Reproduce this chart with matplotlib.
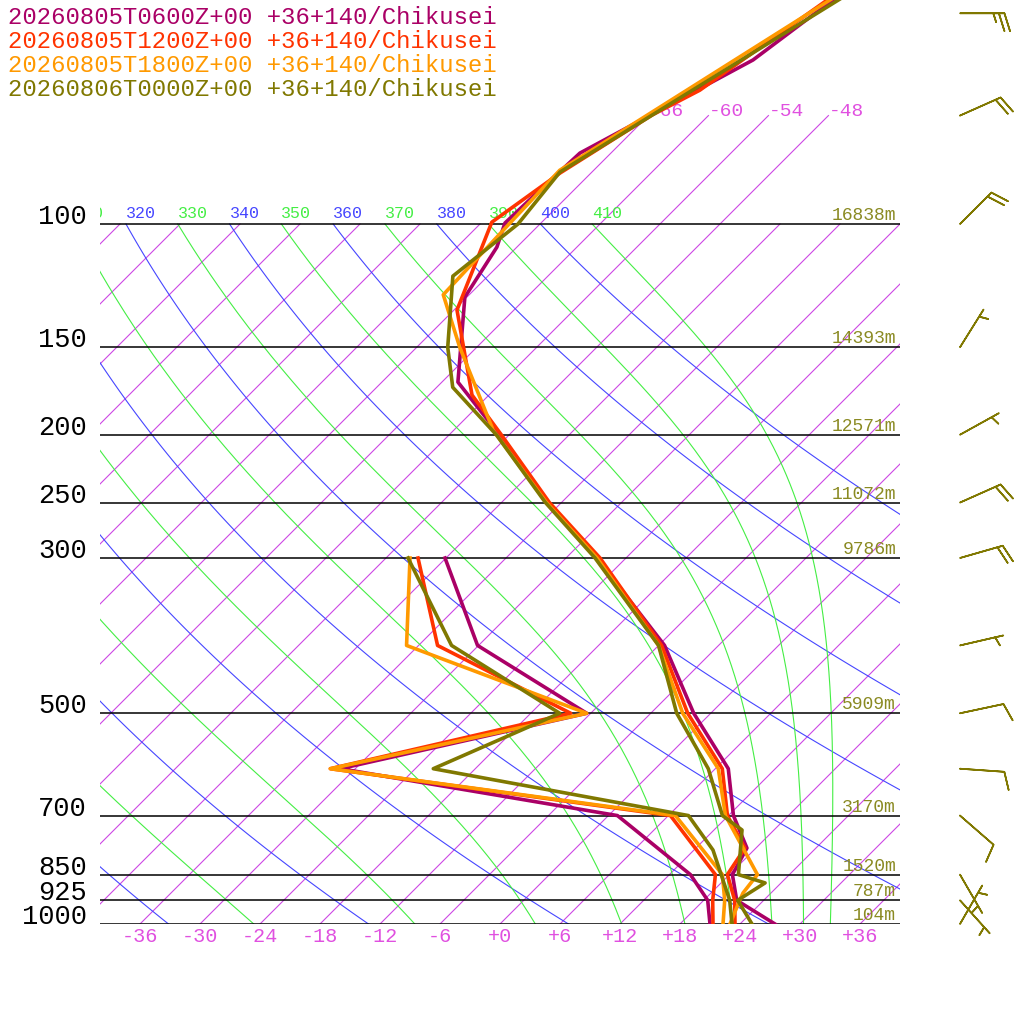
import numpy as np
import matplotlib
matplotlib.use("Agg")
import matplotlib.pyplot as plt
from matplotlib.transforms import offset_copy

plt.rcParams["font.family"] = ["Liberation Mono", "DejaVu Sans Mono"]

# runs shown in the legend
run_labels = [
    "20260805T0600Z+00 +36+140/Chikusei",
    "20260805T1200Z+00 +36+140/Chikusei",
    "20260805T1800Z+00 +36+140/Chikusei",
    "20260806T0000Z+00 +36+140/Chikusei",
]
run_colors = ["#aa0066", "#ff3300", "#ff9900", "#807800"]

# temperature profiles (hPa, degC)
t06_p = [45, 58.3, 79.2, 89.4, 99.7, 107.9, 127.2, 168.2, 200, 250, 300, 400, 500, 600, 700, 779, 850, 925, 1000]
t06_t = [-58.5, -61.1, -69.1, -69.4, -69.6, -68.0, -66.2, -58.4, -49.0, -37.4, -26.9, -11.4, -1.7, 7.3, 12.5, 17.1, 18.3, 21.3, 27.5]
t12_p = [45, 64.4, 69.9, 84.6, 99.4, 132.7, 175.5, 200, 250, 300, 400, 500, 600, 700, 779, 850, 925, 1000]
t12_t = [-58.9, -63.4, -65.7, -69.1, -71.0, -65.7, -55.7, -48.8, -37.2, -26.6, -11.7, -2.3, 6.7, 11.9, 16.9, 17.8, 21.1, 23.5]
t18_p = [45, 83.8, 99.7, 126.2, 150, 196.9, 250, 300, 400, 500, 600, 700, 850, 903, 925, 1000]
t18_t = [-58.3, -69.4, -69.1, -68.6, -61.7, -50.1, -37.5, -26.9, -12.0, -2.8, 6.3, 11.7, 20.8, 21.2, 21.6, 23.0]
t00_p = [45, 84.3, 100, 118.7, 150, 171.1, 200, 250, 300, 400, 500, 600, 700, 734, 850, 873.6, 925, 1000]
t00_t = [-57.4, -69.2, -68.2, -69.5, -62.9, -58.4, -49.3, -37.6, -27.1, -12.0, -3.4, 5.3, 11.4, 14.8, 18.9, 22.4, 21.4, 25.2]

# dew point profiles (hPa, degC)
d06_p = [300, 400, 500, 600, 700, 850, 925, 1000]
d06_t = [-42.1, -30.1, -12.4, -31.5, 0.9, 14.1, 18.4, 21.0]
d12_p = [300, 400, 500, 600, 700, 850, 925, 1000]
d12_t = [-44.8, -34.1, -14.0, -32.5, 6.2, 16.6, 18.9, 21.3]
d18_p = [300, 400, 500, 600, 700, 850, 925, 1000]
d18_t = [-45.6, -37.2, -12.4, -32.5, 6.7, 17.3, 20.1, 22.3]
d00_p = [300, 400, 500, 600, 700, 784, 925, 1000]
d00_t = [-45.8, -32.7, -15.1, -22.2, 8.0, 13.9, 20.6, 23.2]

temps = [(t06_p, t06_t), (t12_p, t12_t), (t18_p, t18_t), (t00_p, t00_t)]
dews = [(d06_p, d06_t), (d12_p, d12_t), (d18_p, d18_t), (d00_p, d00_t)]

# wind (last run): level hPa, direction deg, speed kt
wind_p = [50, 70, 100, 150, 200, 250, 300, 400, 500, 600, 700, 850, 925, 1000]
wind_dir = [90, 66, 45, 32, 61, 66, 74, 77, 78, 94, 131, 150, 138, 30]
wind_spd = [25, 20, 20, 5, 5, 20, 20, 5, 10, 10, 10, 5, 5, 5]

# isobars and their heights
isobars = [100, 150, 200, 250, 300, 500, 700, 850, 925, 1000]
heights = ["16838m", "14393m", "12571m", "11072m", "9786m", "5909m", "3170m", "1520m", "787m", "104m"]

iso_color = "#cc48e4"
dry_color = "#4646ff"
moist_color = "#44ee44"
text_pink = "#e050e0"
height_color = "#8a8a22"


def skew(t, p):
    return np.asarray(t, dtype=float) + 70 * np.log10(1000 / np.asarray(p, dtype=float))


def dtdp(t, p):
    es = 6.112 * np.exp(17.67 * (t - 273.15) / (t - 29.65))
    rs = 0.622 * es / (p - es)
    return (287.04 * t + 2.501e6 * rs) / (p * (1005.7 + 2.501e6 ** 2 * rs * 0.622 / (287.04 * t * t)))


def moist_adiabat(theta_top, pp):
    t = theta_top * 0.1 ** 0.2857
    out = [t]
    for i in range(1, len(pp)):
        p0, h = pp[i - 1], pp[i] - pp[i - 1]
        k1 = dtdp(t, p0)
        k2 = dtdp(t + h * k1 / 2, p0 + h / 2)
        k3 = dtdp(t + h * k2 / 2, p0 + h / 2)
        k4 = dtdp(t + h * k3, p0 + h)
        t = t + h * (k1 + 2 * k2 + 2 * k3 + k4) / 6
        out.append(t)
    return np.array(out) - 273.15


fig = plt.figure(figsize=(10.24, 10.24), dpi=100)
ax = fig.add_axes([100 / 1024, 100 / 1024, 800 / 1024, 924 / 1024])
p_top = 1000 * 10 ** (-924 / 700)
ax.set_yscale("log")
ax.set_ylim(1000, p_top)
ax.set_xlim(-40, 40)
ax.axis("off")
lifted = offset_copy(ax.transData, fig=fig, y=2.2, units="points")

# isotherms
for t in range(-120, 42, 6):
    top = 70 if -66 <= t <= -48 else 100
    pp = np.array([1000.0, top])
    ax.plot(skew([t, t], pp), pp, color=iso_color, lw=0.8, zorder=1)
    if top == 70:
        ax.text(skew(t, 70), 70, f"{t:d}", color=text_pink, fontsize=14,
                ha="left", va="baseline", clip_on=True, zorder=2)

# dry adiabats
pp = np.logspace(3, 2, 120)
for th in range(200, 420, 20):
    tt = th * (pp / 1000) ** 0.2857 - 273.15
    ax.plot(skew(tt, pp), pp, color=dry_color, lw=0.8, zorder=1)
    if th >= 320:
        ax.text(skew(tt[-1], 100), 100, str(th), color=dry_color, fontsize=12,
                ha="left", va="bottom", clip_on=True, zorder=2, transform=lifted)

# moist adiabats
pm = np.linspace(100, 1000, 400)
for th in range(230, 420, 20):
    tt = moist_adiabat(th, pm)
    ax.plot(skew(tt, pm), pm, color=moist_color, lw=0.8, zorder=1)
    if th >= 310:
        ax.text(skew(tt[0], 100), 100, str(th), color=moist_color, fontsize=12,
                ha="left", va="bottom", clip_on=True, zorder=2, transform=lifted)

# isobars
for p, h in zip(isobars, heights):
    ax.plot([-40, 40], [p, p], color="black", lw=1.1, zorder=3)
    ax.text(-41.3, p, str(p), ha="right", va="baseline", fontsize=19.5, color="black")
    ax.text(39.6, p, h, ha="right", va="bottom", fontsize=13, color=height_color, zorder=4)

# temperature axis labels
xt = ax.get_xaxis_transform()
for t in range(-36, 37, 6):
    ax.text(t, -0.014, f"{t:+d}", transform=xt, ha="center", va="center",
            fontsize=14.5, color=text_pink)

# profiles
for (tp, tv), (dp, dv), c in zip(temps, dews, run_colors):
    ax.plot(skew(tv, tp), tp, color=c, lw=2.6, zorder=5)
    ax.plot(skew(dv, dp), dp, color=c, lw=2.6, zorder=5)

# wind barbs
wd = np.radians(wind_dir)
u = -np.array(wind_spd) * np.sin(wd)
v = -np.array(wind_spd) * np.cos(wd)
ax.barbs(np.full(len(wind_p), 46.0), wind_p, u, v, length=8, color=run_colors[3],
         linewidth=1.2, clip_on=False, zorder=6)

# legend text
for i, (lab, c) in enumerate(zip(run_labels, run_colors)):
    fig.text(8 / 1024, 1 - (17 + 24 * i) / 1024, lab, color=c, fontsize=17.2,
             ha="left", va="center")

fig.savefig("out.png", dpi=100, facecolor="white")
